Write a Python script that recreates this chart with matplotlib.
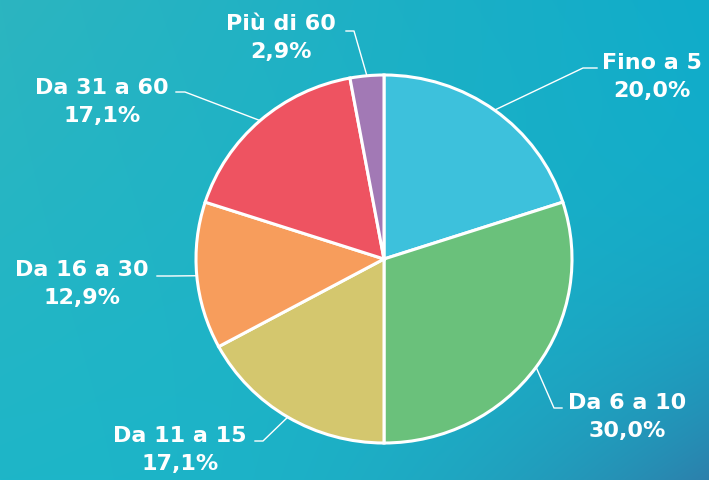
import numpy as np
import matplotlib.pyplot as plt

categories = ['Fino a 5', 'Da 6 a 10', 'Da 11 a 15', 'Da 16 a 30', 'Da 31 a 60', 'Più di 60']
values = [20.0, 30.0, 17.1, 12.9, 17.1, 2.9]
pct_labels = ['20,0%', '30,0%', '17,1%', '12,9%', '17,1%', '2,9%']
slice_colors = ['#3DC1DC', '#6AC17B', '#D4C76E', '#F79D5C', '#EE5361', '#A279B5']

W, H = 709, 481
cx, cy = 384, 260   # centre of the pie, pixels from top-left
rx, ry = 188, 184   # the pie is slightly squashed

# label layout in pixels: (text centre, elbow, end of the leader)
label_pos = [
    ((652, 77), (583, 69), (597, 69)),
    ((627, 417), (554, 409), (562, 409)),
    ((180, 450), (263, 442), (255, 442)),
    ((82, 284), (170, 277), (157, 277)),
    ((102, 102), (185, 93), (176, 93)),
    ((281, 38), (354, 32), (346, 32)),
]


def px(x, y):
    return (x - cx) / rx, (cy - y) / ry


fig = plt.figure(figsize=(W / 100, H / 100), dpi=100)

# background gradient
bg = fig.add_axes([0, 0, 1, 1])
bg.axis('off')
tl = np.array([44, 181, 192]) / 255
tr = np.array([16, 172, 202]) / 255
bl = np.array([30, 182, 200]) / 255
br = np.array([44, 128, 172]) / 255
u = np.linspace(0, 1, W)[None, :, None]
v = np.linspace(0, 1, H)[:, None, None]
v2 = v ** 2
u2 = u ** 2
img = (tl * (1 - u) * (1 - v) + tr * u * (1 - v) + bl * (1 - u) * v
       + (tr + bl) / 2 * u * v * (1 - u2 * v2) + br * u2 * v2 * u * v)
bg.imshow(np.clip(img, 0, 1), extent=[0, W, H, 0], aspect='auto')

ax = fig.add_axes([0, 0, 1, 1])
ax.set_facecolor('none')
wedges, _ = ax.pie(values, colors=slice_colors, startangle=90, counterclock=False,
                   radius=1, wedgeprops=dict(edgecolor='white', linewidth=2.2))
ax.set_aspect('auto')
ax.set_xlim(-cx / rx, (W - cx) / rx)
ax.set_ylim(-(H - cy) / ry, cy / ry)
ax.axis('off')

for w, cat, pct, (txt, elbow, end) in zip(wedges, categories, pct_labels, label_pos):
    mid = np.deg2rad((w.theta1 + w.theta2) / 2)
    ex, ey = np.cos(mid), np.sin(mid)
    bx, by = px(*elbow)
    fx, fy = px(*end)
    ax.plot([ex, bx, fx], [ey, by, fy], color='white', lw=1)
    tx, ty = px(*txt)
    ax.text(tx, ty, f'{cat}\n{pct}', ha='center', va='center', color='white',
            fontsize=16, fontweight='bold', linespacing=1.5)

fig.savefig('out.png', dpi=100)
